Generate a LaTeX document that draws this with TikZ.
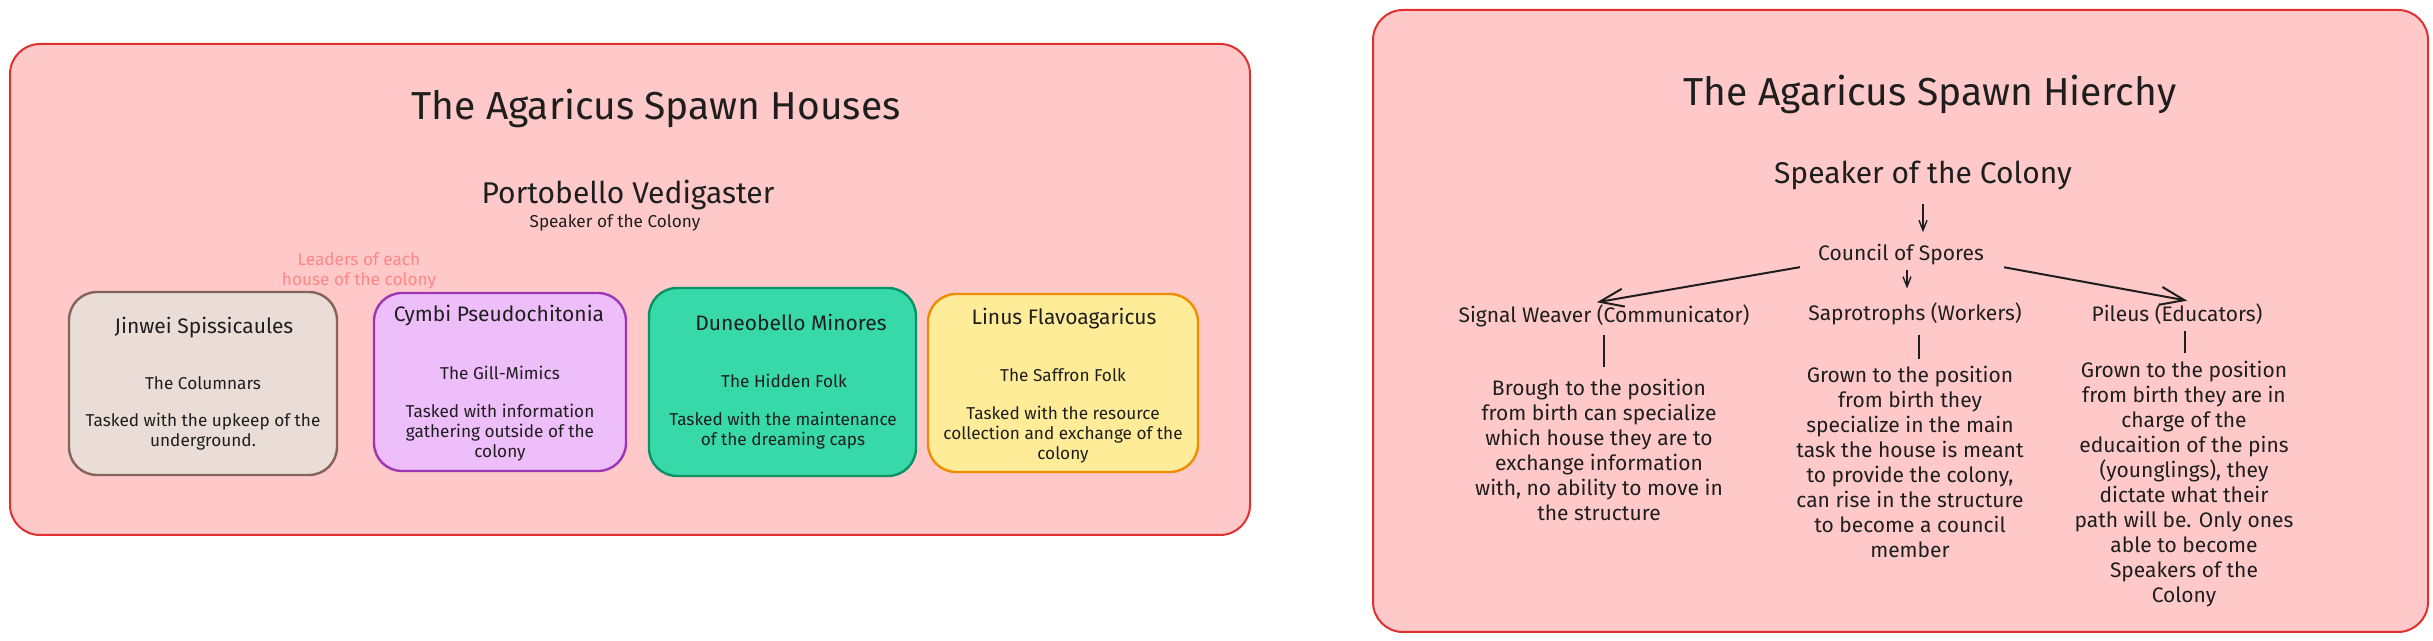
\documentclass[tikz,border=0pt]{standalone}
\usepackage{fontspec}
\setmainfont{Fira Sans}
\usetikzlibrary{arrows.meta}
\definecolor{ink}{HTML}{1E1E1E}
\definecolor{roseFill}{HTML}{FFC9C9}
\definecolor{roseLine}{HTML}{E03131}
\definecolor{noteRed}{HTML}{FF8787}
\definecolor{brownFill}{HTML}{EADDD7}
\definecolor{brownLine}{HTML}{846358}
\definecolor{violetFill}{HTML}{EEBEFA}
\definecolor{violetLine}{HTML}{9C36B5}
\definecolor{tealFill}{HTML}{38D9A9}
\definecolor{tealLine}{HTML}{099268}
\definecolor{sandFill}{HTML}{FFEC99}
\definecolor{sandLine}{HTML}{F08C00}
\tikzset{
  panel/.style={draw=roseLine, fill=roseFill, line width=1pt, rounded corners=15pt},
  house/.style={line width=1.2pt, rounded corners=14pt},
  txt/.style={text=ink, inner sep=0pt, align=center},
  headline/.style={txt, font=\fontsize{19.5}{23}\selectfont},
  subhead/.style={txt, font=\fontsize{15}{18}\selectfont},
  label/.style={txt, font=\fontsize{10.5}{12.5}\selectfont},
  small/.style={txt, font=\fontsize{8.6}{10}\selectfont},
  bigarrow/.style={draw=ink, line width=1pt, -{Straight Barb[length=12pt,width=9pt,line width=1pt]}},
  thinarrow/.style={draw=ink, line width=0.7pt, -{Straight Barb[length=5pt,width=4pt]}},
  stem/.style={draw=ink, line width=1pt}
}
\begin{document}
\begin{tikzpicture}[x=0.5pt,y=-0.5pt]
\useasboundingbox (0,0) rectangle (2433,641);
\fill[white] (0,0) rectangle (2433,641);

% houses panel
\draw[panel] (10,44) rectangle (1250,535);
\node[headline] (housesTitle) at (656,108) {The Agaricus Spawn Houses};
\node[subhead] (porto) at (628,195) {Portobello Vedigaster};
\node[small] (portoRole) at (615,223) {Speaker of the Colony};
\node[small, text=noteRed] (leaders) at (359,271) {Leaders of each\\house of the colony};

\draw[house, draw=brownLine, fill=brownFill] (69,292) rectangle (337,475);
\node[label] (jinwei) at (204,328) {Jinwei Spissicaules};
\node[small] (jinweiFolk) at (203,383) {The Columnars};
\node[small] (jinweiTask) at (203,432) {Tasked with the upkeep of the\\underground.};

\draw[house, draw=violetLine, fill=violetFill] (374,293) rectangle (626,471);
\node[label] (cymbi) at (499,316) {Cymbi Pseudochitonia};
\node[small] (cymbiFolk) at (500,373) {The Gill-Mimics};
\node[small] (cymbiTask) at (500,433) {Tasked with information\\gathering outside of the\\colony};

\draw[house, draw=tealLine, fill=tealFill] (649,288) rectangle (916,476);
\node[label] (dune) at (791,322) {Duneobello Minores};
\node[small] (duneFolk) at (784,381) {The Hidden Folk};
\node[small] (duneTask) at (783,431) {Tasked with the maintenance\\of the dreaming caps};

\draw[house, draw=sandLine, fill=sandFill] (928,294) rectangle (1198,472);
\node[label] (linus) at (1064,319) {Linus Flavoagaricus};
\node[small] (linusFolk) at (1063,375) {The Saffron Folk};
\node[small] (linusTask) at (1063,435) {Tasked with the resource\\collection and exchange of the\\colony};

% hierarchy panel
\draw[panel] (1373,10) rectangle (2428,632);
\node[headline] (rankTitle) at (1930,94) {The Agaricus Spawn Hierchy};
\node[subhead] (speaker) at (1923,175) {Speaker of the Colony};
\node[label] (council) at (1901,255) {Council of Spores};
\node[label] (signal) at (1604,316) {Signal Weaver (Communicator)};
\node[label] (sapro) at (1915,314) {Saprotrophs (Workers)};
\node[label] (pileus) at (2177,314) {Pileus (Educators)};

\node[label] (signalText) at (1599,450) {Brough to the position\\from birth can specialize\\which house they are to\\exchange information\\with, no ability to move in\\the structure};
\node[label] (saproText) at (1910,462) {Grown to the position\\from birth they\\specialize in the main\\task the house is meant\\to provide the colony,\\can rise in the structure\\to become a council\\member};
\node[label] (pileusText) at (2184,484) {Grown to the position\\from birth they are in\\charge of the\\educaition of the pins\\(younglings), they\\dictate what their\\path will be. Only ones\\able to become\\Speakers of the\\Colony};

\draw[thinarrow, shorten <=7pt, shorten >=6pt] (speaker.south) -- (speaker.south |- council.north);
\draw[bigarrow, shorten <=4pt, shorten >=6.5pt] ([xshift=-5pt]council.south west) -- ([xshift=-10pt]signal.north);
\draw[thinarrow, shorten <=2pt, shorten >=7pt] ([xshift=3pt]council.south) -- ([xshift=3pt]council.south |- sapro.north);
\draw[bigarrow, shorten <=4pt, shorten >=7pt] ([xshift=6pt]council.south east) -- ([xshift=12pt]pileus.north);

\draw[stem, shorten <=3.5pt, shorten >=6pt] (signal.south) -- (signal.south |- signalText.north);
\draw[stem, shorten <=4.5pt, shorten >=3.5pt] ([xshift=2pt]sapro.south) -- ([xshift=2pt]sapro.south |- saproText.north);
\draw[stem, shorten <=3pt, shorten >=4pt] ([xshift=4pt]pileus.south) -- ([xshift=4pt]pileus.south |- pileusText.north);
\end{tikzpicture}
\end{document}
